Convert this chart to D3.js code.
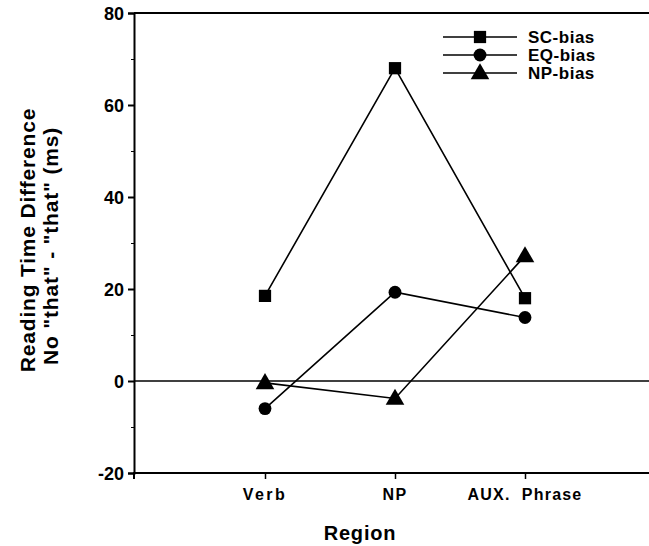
<!DOCTYPE html>
<html><head><meta charset="utf-8">
<script src="https://cdn.jsdelivr.net/npm/d3@7"></script>
<style>body{margin:0;background:#fff}text{font-family:"Liberation Sans",Arial,sans-serif;font-weight:bold;fill:#000}</style>
</head><body>
<svg id="c" width="649" height="546"></svg>
<script>
const categories = ["Verb", "NP", "AUX.  Phrase"];
const seriesNames = ["SC-bias", "EQ-bias", "NP-bias"];
const scBias = [18.5, 68, 18];
const eqBias = [-6, 19.3, 13.8];
const npBias = [-0.4, -3.8, 27.2];
const yTicks = [-20, 0, 20, 40, 60, 80];
const yTickLabels = ["-20", "0", "20", "40", "60", "80"];
const yMinor = [-10, 10, 30, 50, 70];
const series = [scBias, eqBias, npBias];
const shapes = [d3.symbolSquare, d3.symbolCircle, d3.symbolTriangle];
const sizes = [150, 130, 150];

const svg = d3.select("#c");
const x = d3.scaleLinear().domain([0, 4]).range([135, 655]);
const y = d3.scaleLinear().domain([-20, 80]).range([473, 13]);

// frame lines
svg.append("line").attr("x1", 134).attr("x2", 649).attr("y1", y(80)).attr("y2", y(80)).attr("stroke", "#000").attr("stroke-width", 2);
svg.append("line").attr("x1", 134).attr("x2", 649).attr("y1", y(0)).attr("y2", y(0)).attr("stroke", "#000").attr("stroke-width", 1.5);

// y axis
const yAxis = svg.append("g").attr("transform", "translate(134,0)")
  .call(d3.axisLeft(y).tickValues(yTicks).tickSize(6).tickFormat((d, i) => yTickLabels[i]));
yAxis.select(".domain").attr("stroke-width", 2);
yAxis.selectAll(".tick line").attr("stroke-width", 2);
yAxis.selectAll("text").attr("font-size", 18).attr("dx", -1).attr("dy", "0.36em")
  .attr("font-family", '"Liberation Sans",Arial,sans-serif').attr("font-weight", "bold");
svg.append("g").attr("transform", "translate(134,0)")
  .call(d3.axisLeft(y).tickValues(yMinor).tickSize(3).tickFormat(""))
  .call(g => g.select(".domain").remove());

// x axis
const xAxis = svg.append("g").attr("transform", `translate(0,${y(-20)})`)
  .call(d3.axisBottom(x).tickValues([1, 2, 3]).tickSize(6).tickFormat(""));
xAxis.select(".domain").attr("stroke-width", 2).attr("d", `M134,6V0H649`);
xAxis.selectAll(".tick line").attr("stroke-width", 1.5);

const xSpacing = [2.5, 1.5, 1.2];
svg.selectAll(".xlab").data(categories).enter().append("text")
  .attr("x", (d, i) => x(i + 1)).attr("y", 500).attr("text-anchor", "middle")
  .attr("font-size", 16).attr("letter-spacing", (d, i) => xSpacing[i])
  .attr("xml:space", "preserve").style("white-space", "pre")
  .text(d => d);

// axis titles
svg.append("text").attr("x", 360).attr("y", 540).attr("text-anchor", "middle").attr("font-size", 20).attr("letter-spacing", 0.8).text("Region");
svg.append("text").attr("transform", "translate(35,240) rotate(-90)").attr("text-anchor", "middle").attr("font-size", 21).attr("letter-spacing", 0.8).text("Reading Time Difference");
svg.append("text").attr("transform", "translate(58,246) rotate(-90)").attr("text-anchor", "middle").attr("font-size", 21).attr("letter-spacing", 0.8)
  .text('No "that" - "that" (ms)');

// series
const line = d3.line().x((d, i) => x(i + 1)).y(d => y(d));
series.forEach((s, k) => {
  svg.append("path").datum(s).attr("d", line).attr("fill", "none").attr("stroke", "#000").attr("stroke-width", 1.6);
  svg.selectAll(".m" + k).data(s).enter().append("path")
    .attr("transform", (d, i) => `translate(${x(i + 1)},${y(d) + (k === 2 ? 1 : 0)})`)
    .attr("d", d3.symbol().type(shapes[k]).size(sizes[k]));
});

// legend
const ly = [37, 55, 73];
seriesNames.forEach((n, k) => {
  svg.append("line").attr("x1", 443).attr("x2", 517).attr("y1", ly[k]).attr("y2", ly[k]).attr("stroke", "#000").attr("stroke-width", 1.6);
  svg.append("path").attr("transform", `translate(480,${ly[k] + (k === 2 ? 1 : 0)})`).attr("d", d3.symbol().type(shapes[k]).size(sizes[k]));
  svg.append("text").attr("x", 528).attr("y", ly[k] + 6).attr("font-size", 17).attr("letter-spacing", 0.5).text(n);
});
</script>
</body></html>
